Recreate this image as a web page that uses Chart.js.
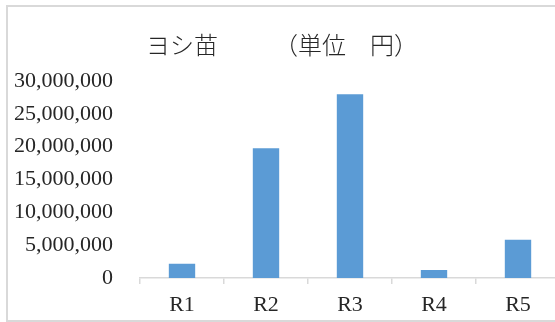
<!DOCTYPE html>
<html>
<head>
<meta charset="utf-8">
<script src="https://cdn.jsdelivr.net/npm/chart.js@4/dist/chart.umd.min.js"></script>
<style>
  html, body { margin: 0; padding: 0; background: #fff; overflow: hidden; }
  #wrap { position: relative; width: 555px; height: 322px; overflow: hidden; }
  #frame { position: absolute; left: 6px; top: 5px; width: 600px; height: 317px;
           box-sizing: border-box; border: 2px solid #d9d9d9; }
  #c { position: absolute; left: 0; top: 0; }
</style>
</head>
<body>
<div id="wrap">
  <div id="frame"></div>
  <canvas id="c" width="575" height="322"></canvas>
</div>
<script>
// Seedling (ヨシ苗) cost per fiscal year, in yen
const categories = ['R1', 'R2', 'R3', 'R4', 'R5'];
const seedlingCost = [2170000, 19770000, 27980000, 1220000, 5820000];
const yMin = 0;
const yMax = 30000000;
const yStep = 5000000;
const titleMain = 'ヨシ苗';
const titleUnit = '（単位　円）';

const serif = "'Liberation Serif', 'Times New Roman', serif";
const cjk = "'Noto Sans CJK JP', 'Noto Sans CJK SC', sans-serif";

// Title drawn as two runs on one line: name and unit
const titleRuns = {
  id: 'titleRuns',
  afterDraw(chart) {
    const ctx = chart.ctx;
    ctx.save();
    ctx.fillStyle = '#262626';
    ctx.font = '300 24px ' + cjk;
    ctx.textBaseline = 'middle';
    ctx.textAlign = 'left';
    ctx.fillText(titleMain, 146, 45);
    ctx.fillText(titleUnit, 274, 45);
    ctx.restore();
  }
};

new Chart(document.getElementById('c'), {
  type: 'bar',
  data: {
    labels: categories,
    datasets: [{
      data: seedlingCost,
      backgroundColor: '#5B9BD5',
      borderWidth: 0,
      barPercentage: 0.314,
      categoryPercentage: 1
    }]
  },
  options: {
    responsive: false,
    animation: false,
    layout: { padding: { top: 81, left: 0, right: 15, bottom: 0 } },
    plugins: {
      legend: { display: false },
      title: { display: false },
      tooltip: { enabled: false }
    },
    scales: {
      x: {
        afterFit(scale) { scale.height = 44; },
        grid: {
          display: true,
          drawOnChartArea: false,
          drawTicks: true,
          tickLength: 6,
          color: '#d9d9d9',
          lineWidth: 1.5
        },
        border: { display: true, color: '#d9d9d9', width: 1.5 },
        ticks: {
          color: '#262626',
          padding: 8,
          font: { family: serif, size: 22 }
        }
      },
      y: {
        min: yMin,
        max: yMax,
        afterFit(scale) { scale.width = 140; },
        grid: { display: false, drawTicks: false },
        border: { display: false },
        ticks: {
          stepSize: yStep,
          color: '#262626',
          padding: 27,
          font: { family: serif, size: 22 },
          callback: (v) => Number(v).toLocaleString('en-US')
        }
      }
    }
  },
  plugins: [titleRuns]
});
</script>
</body>
</html>
